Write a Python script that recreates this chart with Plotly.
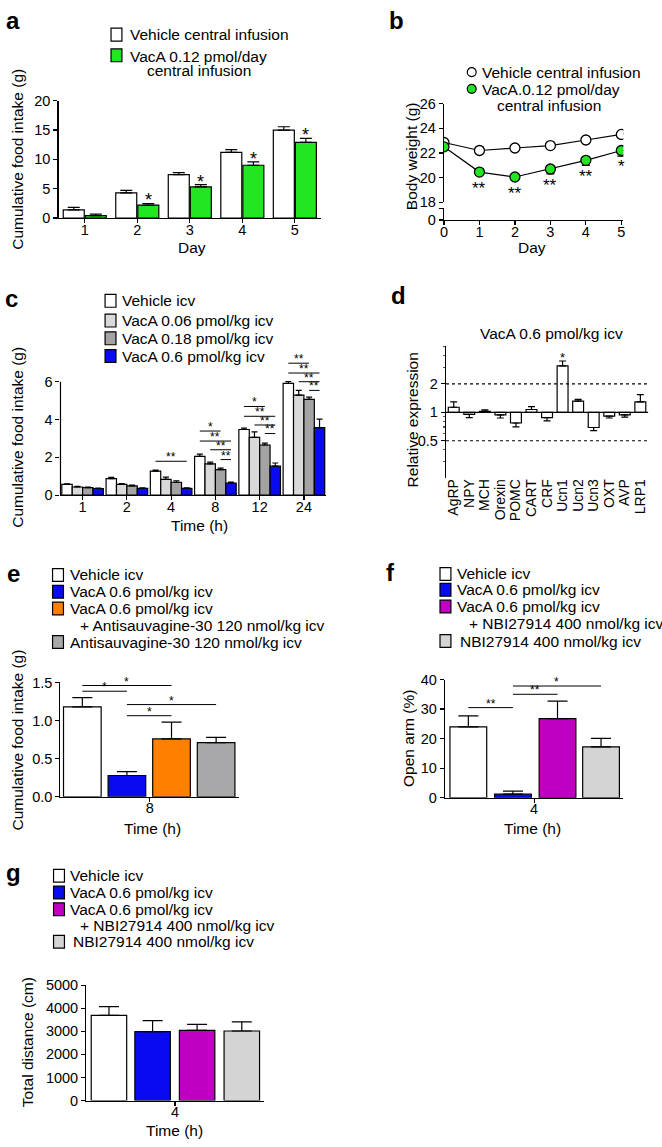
import math
import plotly.graph_objects as go

W, H = 662, 1147
FONT = "Liberation Sans, Arial, sans-serif"

# ---------------- data ----------------
a_days = ["1", "2", "3", "4", "5"]
a_vehicle = [1.4, 4.3, 7.4, 11.2, 15.0]
a_vehicle_sem = [0.4, 0.4, 0.34, 0.45, 0.56]
a_vaca = [0.4, 2.2, 5.3, 9.0, 12.9]
a_vaca_sem = [0.28, 0.28, 0.4, 0.56, 0.67]
a_sig = ["", "*", "*", "*", "*"]

b_days = [0, 1, 2, 3, 4, 5]
b_vehicle = [22.85, 22.2, 22.4, 22.6, 23.05, 23.5]
b_vehicle_sem = [0.1, 0.3, 0.1, 0.1, 0.1, 0.1]
b_vaca = [22.5, 20.45, 20.05, 20.7, 21.4, 22.2]
b_vaca_sem = [0.15, 0.2, 0.2, 0.4, 0.4, 0.45]
b_sig = ["", "**", "**", "**", "**", "*"]

c_times = ["1", "2", "4", "8", "12", "24"]
c_vehicle = [0.57, 0.87, 1.27, 2.05, 3.47, 5.91]
c_vehicle_sem = [0.03, 0.07, 0.05, 0.12, 0.07, 0.1]
c_v006 = [0.43, 0.57, 0.83, 1.65, 3.05, 5.29]
c_v006_sem = [0.03, 0.04, 0.12, 0.1, 0.3, 0.25]
c_v018 = [0.40, 0.49, 0.68, 1.35, 2.65, 5.06]
c_v018_sem = [0.03, 0.04, 0.08, 0.08, 0.1, 0.12]
c_v06 = [0.35, 0.36, 0.36, 0.64, 1.53, 3.57]
c_v06_sem = [0.02, 0.02, 0.03, 0.05, 0.17, 0.45]
# (time index, bar from, bar to, height, label)
c_brackets = [
    (2, 0, 3, 1.79, "**"),
    (3, 0, 2, 3.39, "*"), (3, 0, 3, 2.86, "**"), (3, 1, 3, 2.40, "**"), (3, 2, 3, 1.88, "**"),
    (4, 0, 2, 4.69, "*"), (4, 0, 3, 4.17, "**"), (4, 1, 3, 3.71, "**"), (4, 2, 3, 3.26, "**"),
    (5, 0, 2, 6.98, "**"), (5, 0, 3, 6.46, "**"), (5, 1, 3, 6.00, "**"), (5, 2, 3, 5.54, "**"),
]

d_genes = ["AgRP", "NPY", "MCH", "Orexin", "POMC", "CART", "CRF", "Ucn1", "Ucn2",
           "Ucn3", "OXT", "AVP", "LRP1"]
d_expr = [1.13, 0.95, 1.02, 0.94, 0.77, 1.07, 0.88, 3.1, 1.31, 0.69, 0.91, 0.94, 1.29]
d_sem = [0.16, 0.07, 0.04, 0.07, 0.07, 0.08, 0.07, 0.39, 0.06, 0.05, 0.04, 0.05, 0.25]
d_sig = ["", "", "", "", "", "", "", "*", "", "", "", "", ""]

e_time = ["8"]
e_values = [1.18, 0.28, 0.76, 0.71]
e_sem = [0.12, 0.05, 0.22, 0.07]
e_brackets = [(0, 2, 1.46, "*"), (0, 1, 1.385, "*"), (1, 3, 1.21, "*"), (1, 2, 1.064, "*")]

f_time = ["4"]
f_values = [24.0, 1.24, 26.8, 17.25]
f_sem = [3.7, 1.0, 5.9, 2.85]
f_brackets = [(0, 1, 30.5, "**"), (1, 2, 35.0, "**"), (1, 3, 37.8, "*")]

g_time = ["4"]
g_values = [3690, 2986, 3042, 3014]
g_sem = [380, 480, 255, 394]

# ---------------- styles ----------------
WHITE = "#ffffff"
GREEN = "#22e622"
BLUE = "#0a0af0"
LGRAY = "#d9d9d9"
DGRAY = "#a3a3a3"
ORANGE = "#ff8000"
GRAY_E = "#a8a8aa"
MAGENTA = "#c000c0"
LGRAY2 = "#d4d4d4"

TICKFONT = dict(size=14.5, family=FONT, color="black")
TXT = 15.5

shapes = []
annots = []


def fx(p):
    return p / W


def fy(p):
    return 1 - p / H


def dom_x(a, b):
    return [a / W, b / W]


def dom_y(top, bottom):
    return [1 - bottom / H, 1 - top / H]


def text(x, y, s, size=TXT, xanchor="center", yanchor="middle", angle=0, bold=False):
    annots.append(dict(xref="paper", yref="paper", x=fx(x), y=fy(y),
                       text=f"<b>{s}</b>" if bold else s, showarrow=False,
                       xanchor=xanchor, yanchor=yanchor, textangle=angle,
                       font=dict(size=size, family=FONT, color="black")))


def sq(x, cy, color):
    shapes.append(dict(type="rect", xref="paper", yref="paper", x0=fx(x), x1=fx(x + 11),
                       y0=fy(cy + 6.5), y1=fy(cy - 6.5),
                       line=dict(color="black", width=1.2), fillcolor=color))


def circ(cx, cy, color):
    shapes.append(dict(type="circle", xref="paper", yref="paper", x0=fx(cx - 4.5), x1=fx(cx + 4.5),
                       y0=fy(cy + 4.5), y1=fy(cy - 4.5),
                       line=dict(color="black", width=1.2), fillcolor=color))


def bracket(xa, ya, x0, x1, y, label, size=12, yshift=-5):
    shapes.append(dict(type="line", xref=xa, yref=ya, x0=x0, x1=x1, y0=y, y1=y,
                       line=dict(color="black", width=1)))
    annots.append(dict(xref=xa, yref=ya, x=(x0 + x1) / 2, y=y, text=label, showarrow=False,
                       yanchor="bottom", yshift=yshift,
                       font=dict(size=size, family=FONT, color="black")))


def ax(**kw):
    d = dict(showgrid=False, zeroline=False, showline=True, linecolor="black", linewidth=1.2,
             ticks="outside", ticklen=4, tickwidth=1.2, tickcolor="black", tickfont=TICKFONT,
             fixedrange=True)
    d.update(kw)
    return d


def xax(**kw):
    return ax(ticklabelstandoff=-6, **kw)


def bar(x, y, sem, color, xa, ya, offset, width, cap):
    return go.Bar(x=x, y=y, xaxis=xa, yaxis=ya, offset=offset, width=width,
                  marker=dict(color=color, line=dict(color="black", width=1.2)),
                  error_y=dict(type="data", symmetric=False, array=sem,
                               arrayminus=[0] * len(sem), color="black",
                               thickness=1.2, width=cap),
                  showlegend=False, hoverinfo="skip")


fig = go.Figure()

# ---------------- panel a ----------------
a_off, a_w = [-0.41, 0.01], 0.4
fig.add_trace(bar(a_days, a_vehicle, a_vehicle_sem, WHITE, "x", "y", a_off[0], a_w, 6))
fig.add_trace(bar(a_days, a_vaca, a_vaca_sem, GREEN, "x", "y", a_off[1], a_w, 6))
for i, s in enumerate(a_sig):
    if s:
        annots.append(dict(xref="x", yref="y", x=i + a_off[1] + a_w / 2,
                           y=a_vaca[i] + a_vaca_sem[i], text=s, showarrow=False,
                           yanchor="bottom", yshift=-9,
                           font=dict(size=18, family=FONT, color="black")))

# ---------------- panel b ----------------
# empty helper trace so the broken lower y-axis segment (0) is drawn
fig.add_trace(go.Scatter(x=[], y=[], xaxis="x2", yaxis="y9", mode="markers",
                         showlegend=False, hoverinfo="skip"))
fig.add_trace(go.Scatter(x=b_days, y=b_vehicle, xaxis="x2", yaxis="y2", mode="lines+markers",
                         line=dict(color="black", width=1.2),
                         marker=dict(size=10, color=WHITE, line=dict(color="black", width=1.3)),
                         error_y=dict(type="data", symmetric=False, array=b_vehicle_sem,
                                      arrayminus=[0] * 6, color="black", thickness=1.2, width=4),
                         showlegend=False, hoverinfo="skip"))
fig.add_trace(go.Scatter(x=b_days, y=b_vaca, xaxis="x2", yaxis="y2", mode="lines+markers",
                         line=dict(color="black", width=1.2),
                         marker=dict(size=10, color=GREEN, line=dict(color="black", width=1.3)),
                         error_y=dict(type="data", symmetric=False, array=[0] * 6,
                                      arrayminus=b_vaca_sem, color="black", thickness=1.2, width=4),
                         showlegend=False, hoverinfo="skip"))
for i, s in enumerate(b_sig):
    if s:
        annots.append(dict(xref="x2", yref="y2", x=b_days[i], y=b_vaca[i], text=s,
                           showarrow=False, yanchor="top", yshift=-5,
                           font=dict(size=17, family=FONT, color="black")))

# ---------------- panel c ----------------
c_off, c_w = [-0.47, -0.235, 0.0, 0.235], 0.235
c_series = [(c_vehicle, c_vehicle_sem, WHITE), (c_v006, c_v006_sem, LGRAY),
            (c_v018, c_v018_sem, DGRAY), (c_v06, c_v06_sem, BLUE)]
for k, (vals, sem, col) in enumerate(c_series):
    fig.add_trace(bar(c_times, vals, sem, col, "x3", "y3", c_off[k], c_w, 3))
for ti, b0, b1, yv, lab in c_brackets:
    bracket("x3", "y3", ti + c_off[b0] + c_w / 2, ti + c_off[b1] + c_w / 2, yv, lab, size=12)
# y axis line of panel c only up to 6
shapes.append(dict(type="line", xref="x3 domain", yref="y3", x0=0, x1=0, y0=0, y1=6,
                   line=dict(color="black", width=1.2)))

# ---------------- panel d ----------------
fig.add_trace(go.Bar(x=d_genes, y=[v - 1 for v in d_expr], base=[1] * len(d_expr),
                     xaxis="x4", yaxis="y4", width=0.7,
                     marker=dict(color=WHITE, line=dict(color="black", width=1.2)),
                     showlegend=False, hoverinfo="skip"))
fig.add_trace(go.Scatter(x=d_genes, y=d_expr, xaxis="x4", yaxis="y4", mode="markers",
                         marker=dict(size=1, color="rgba(0,0,0,0)"),
                         error_y=dict(type="data", symmetric=False,
                                      array=[e if v >= 1 else 0 for v, e in zip(d_expr, d_sem)],
                                      arrayminus=[e if v < 1 else 0 for v, e in zip(d_expr, d_sem)],
                                      color="black", thickness=1.2, width=3.5),
                         showlegend=False, hoverinfo="skip"))
for yv, dash in [(2, "dot"), (0.5, "dot"), (1, "solid")]:
    shapes.append(dict(type="line", xref="x4 domain", yref="y4", x0=0, x1=1, y0=yv, y1=yv,
                       line=dict(color="black", width=1.2, dash=dash)))
for i, s in enumerate(d_sig):
    if s:
        annots.append(dict(xref="x4", yref="y4", x=i, y=math.log10(d_expr[i] + d_sem[i]),
                           text=s, showarrow=False, yanchor="bottom", yshift=-6,
                           font=dict(size=13, family=FONT, color="black")))

# ---------------- panel e ----------------
e_off, e_w = [-0.483, -0.233, 0.017, 0.267], 0.211
for k, col in enumerate([WHITE, BLUE, ORANGE, GRAY_E]):
    fig.add_trace(bar(e_time, [e_values[k]], [e_sem[k]], col, "x5", "y5", e_off[k], e_w, 10))
for b0, b1, yv, lab in e_brackets:
    bracket("x5", "y5", e_off[b0] + e_w / 2, e_off[b1] + e_w / 2, yv, lab)

# ---------------- panel f ----------------
f_off, f_w = [-0.472, -0.222, 0.028, 0.272], 0.206
for k, col in enumerate([WHITE, BLUE, MAGENTA, LGRAY2]):
    fig.add_trace(bar(f_time, [f_values[k]], [f_sem[k]], col, "x6", "y6", f_off[k], f_w, 10))
for b0, b1, yv, lab in f_brackets:
    bracket("x6", "y6", f_off[b0] + f_w / 2, f_off[b1] + f_w / 2, yv, lab)

# ---------------- panel g ----------------
g_off, g_w = [-0.472, -0.226, 0.025, 0.277], 0.2
for k, col in enumerate([WHITE, BLUE, MAGENTA, LGRAY2]):
    fig.add_trace(bar(g_time, [g_values[k]], [g_sem[k]], col, "x7", "y7", g_off[k], g_w, 10))

# ---------------- legends & texts ----------------
# a
sq(108, 27, WHITE); text(125, 27, "Vehicle central infusion", xanchor="left")
sq(108, 48, GREEN); text(125, 49, "VacA 0.12 pmol/day", xanchor="left")
text(142, 63, "central infusion", xanchor="left")
# b
circ(472, 65, WHITE); text(480, 65, "Vehicle central infusion", xanchor="left")
circ(472, 82, GREEN); text(480, 83, "VacA.0.12 pmol/day", xanchor="left")
text(495, 99, "central infusion", xanchor="left")
# c
for cy, col, s in [(297, WHITE, "Vehicle icv"), (317, LGRAY, "VacA 0.06 pmol/kg icv"),
                   (335, DGRAY, "VacA 0.18 pmol/kg icv"), (353, BLUE, "VacA 0.6 pmol/kg icv")]:
    sq(102, cy, col); text(117, cy, s, xanchor="left")
# e
sq(49, 575, WHITE); text(65, 575, "Vehicle icv", xanchor="left")
sq(49, 592, BLUE); text(65, 592, "VacA 0.6 pmol/kg icv", xanchor="left")
sq(49, 609, ORANGE); text(65, 609, "VacA 0.6 pmol/kg icv", xanchor="left")
text(75, 626, "+ Antisauvagine-30 120 nmol/kg icv", xanchor="left")
sq(49, 643, GRAY_E); text(65, 643, "Antisauvagine-30 120 nmol/kg icv", xanchor="left")
# f
sq(440, 574, WHITE); text(455, 574, "Vehicle icv", xanchor="left")
sq(440, 590, BLUE); text(455, 590, "VacA 0.6 pmol/kg icv", xanchor="left")
sq(440, 607, MAGENTA); text(455, 607, "VacA 0.6 pmol/kg icv", xanchor="left")
text(467, 624, "+ NBI27914 400 nmol/kg icv", xanchor="left")
sq(440, 642, LGRAY2); text(458, 642, "NBI27914 400 nmol/kg icv", xanchor="left")
# g
sq(50, 880, WHITE); text(65, 880, "Vehicle icv", xanchor="left")
sq(50, 897, BLUE); text(65, 897, "VacA 0.6 pmol/kg icv", xanchor="left")
sq(50, 914, MAGENTA); text(65, 914, "VacA 0.6 pmol/kg icv", xanchor="left")
text(75, 930, "+ NBI27914 400 nmol/kg icv", xanchor="left")
sq(50, 947, LGRAY2); text(68, 947, "NBI27914 400 nmol/kg icv", xanchor="left")

# axis titles
text(14, 153, "Cumulative food intake (g)", angle=-90)
text(190, 243, "Day")
text(412, 150, "Body weight (g)", angle=-90)
text(533, 243, "Day")
text(14, 435, "Cumulative food intake (g)", angle=-90)
text(197, 525, "Time (h)")
text(412, 418, "Relative expression", angle=-90)
text(553, 330, "VacA 0.6 pmol/kg icv")
text(14, 742, "Cumulative food intake (g)", angle=-90)
text(150, 832, "Time (h)")
text(408, 741, "Open arm (%)", angle=-90)
text(533, 832, "Time (h)")
text(24, 1049, "Total distance (cm)", angle=-90)
text(172, 1138, "Time (h)")

# panel letters
for lx, ly, L in [(9, 13, "a"), (396, 13, "b"), (8, 295, "c"), (398, 292, "d"),
                  (10, 573, "e"), (390, 572, "f"), (10, 877, "g")]:
    text(lx, ly, L, size=24, bold=True)

c_top = 494 - 7.6 * (115 / 6)

fig.update_layout(
    width=W, height=H, margin=dict(l=0, r=0, t=0, b=0),
    paper_bgcolor="white", plot_bgcolor="rgba(0,0,0,0)",
    barmode="overlay", showlegend=False,
    font=dict(family=FONT, color="black"),
    xaxis=xax(domain=dom_x(55, 320), anchor="y", type="category", range=[-0.5, 4.5]),
    yaxis=ax(domain=dom_y(94, 213), anchor="x", range=[0, 20], tickvals=[0, 5, 10, 15, 20]),
    xaxis2=xax(domain=dom_x(444, 625), anchor="y9", range=[0, 5.056], tickvals=b_days),
    yaxis2=ax(domain=dom_y(97, 197), anchor="x2", range=[18, 26], tickvals=[18, 20, 22, 24, 26]),
    yaxis9=ax(domain=dom_y(203, 215), anchor="x2", range=[0, 1], tickvals=[0, 1], ticktext=["0", ""]),
    xaxis3=xax(domain=dom_x(57, 325), anchor="y3", type="category", range=[-0.5, 5.5]),
    yaxis3=ax(domain=dom_y(c_top, 494), anchor="x3", range=[0, 7.6], tickvals=[0, 2, 4, 6],
              showline=False),
    xaxis4=ax(domain=dom_x(446, 650), anchor="y4", type="category", range=[-0.5, 12.5],
              showline=False, ticks="", tickangle=-90, tickmode="array",
              tickvals=d_genes, ticktext=d_genes, ticklabelstandoff=-3,
              tickfont=dict(size=14, family=FONT, color="black")),
    yaxis4=ax(domain=dom_y(343, 477), anchor="x4", type="log",
              range=[math.log10(0.2), math.log10(5)], tickvals=[0.5, 1, 2], ticktext=["0.5", "1", "2"],
              minor=dict(ticks="outside", ticklen=2, tickcolor="#555",
                         tickvals=[0.3, 0.4, 0.6, 0.7, 0.8, 0.9, 3, 4, 5])),
    xaxis5=xax(domain=dom_x(57, 237), anchor="y5", type="category", range=[-0.5, 0.5]),
    yaxis5=ax(domain=dom_y(684, 800), anchor="x5", range=[0, 1.5], tickvals=[0, 0.5, 1, 1.5],
              tickformat=".1f"),
    xaxis6=xax(domain=dom_x(445, 625), anchor="y6", type="category", range=[-0.5, 0.5]),
    yaxis6=ax(domain=dom_y(681, 801), anchor="x6", range=[0, 40], tickvals=[0, 10, 20, 30, 40]),
    xaxis7=xax(domain=dom_x(83, 262), anchor="y7", type="category", range=[-0.5, 0.5]),
    yaxis7=ax(domain=dom_y(991, 1108), anchor="x7", range=[0, 5000],
              tickvals=[0, 1000, 2000, 3000, 4000, 5000]),
    shapes=shapes, annotations=annots,
)

fig.write_html("out.html", config={"displayModeBar": False, "staticPlot": True},
               post_script="document.body.style.margin='0';document.body.style.padding='0';"
                           "document.documentElement.style.overflow='hidden';")
